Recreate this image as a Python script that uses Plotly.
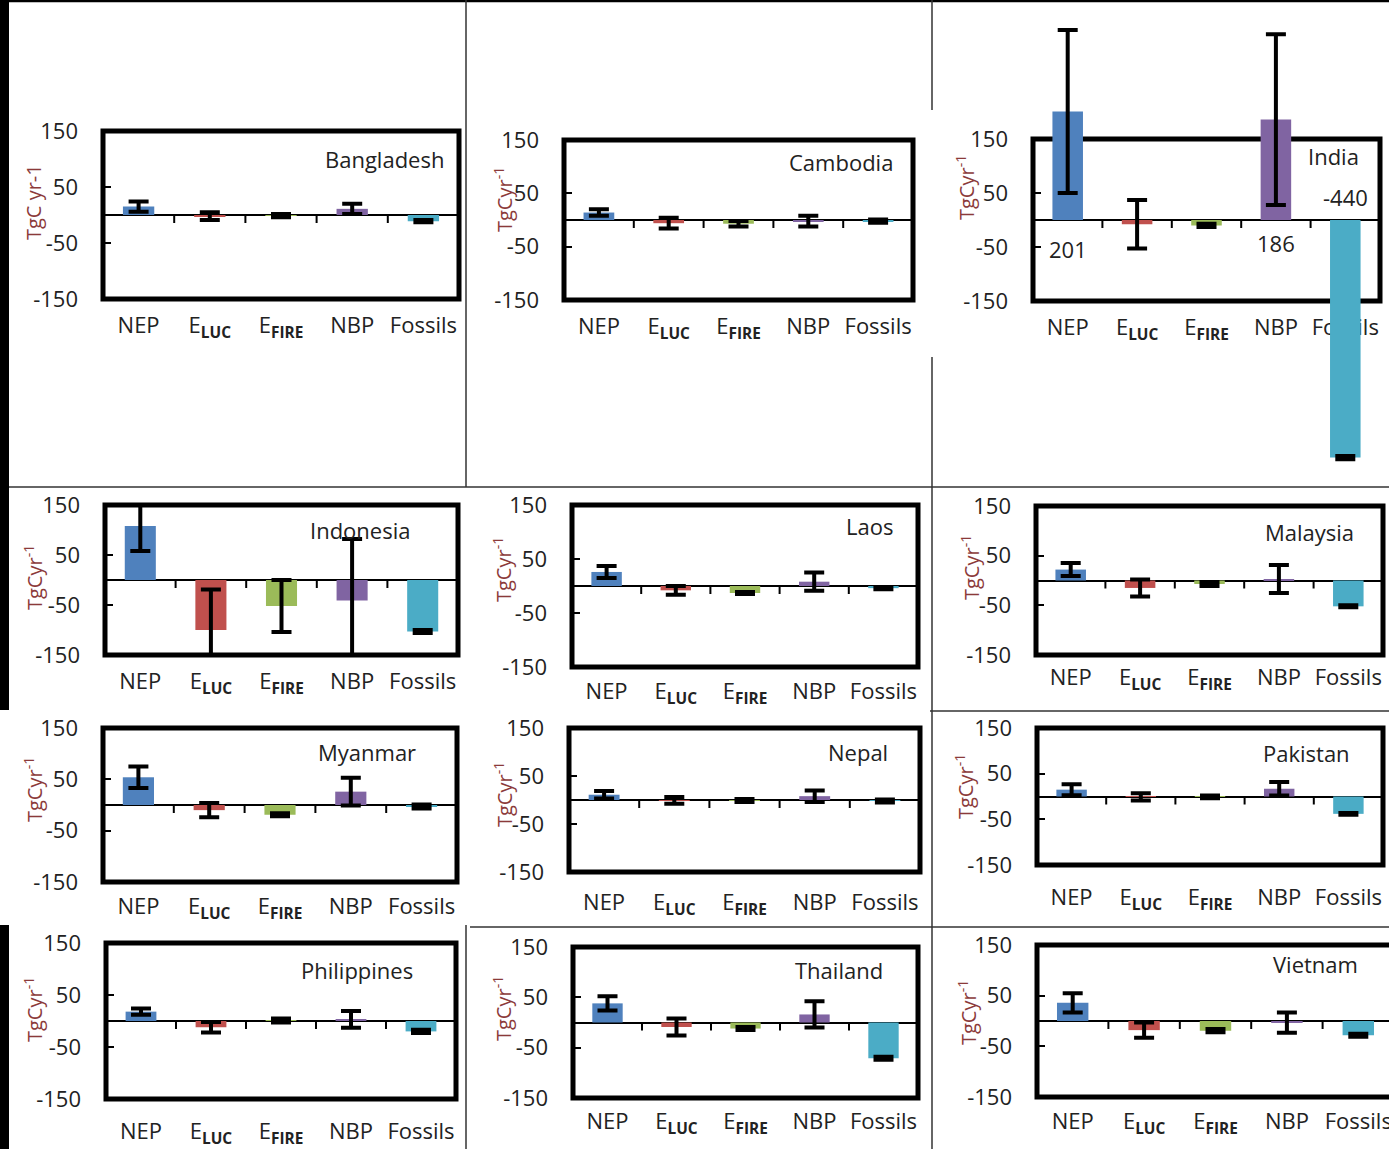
import plotly.graph_objects as go

W, H = 1389, 1149

categories = ['NEP', 'ELUC', 'EFIRE', 'NBP', 'Fossils']
category_labels = ['NEP', 'E<sub><b>LUC</b></sub>', 'E<sub><b>FIRE</b></sub>', 'NBP', 'Fossils']
bar_colors = ['#4F81BD', '#C0504D', '#9BBB59', '#8064A2', '#4BACC6']
y_tick_values = [150, 50, -50, -150]
y_tick_labels = ['150', '50', '-50', '-150']

countries = ['Bangladesh', 'Cambodia', 'India', 'Indonesia', 'Laos', 'Malaysia',
             'Myanmar', 'Nepal', 'Pakistan', 'Philippines', 'Thailand', 'Vietnam']

# values (TgC yr-1) and error magnitudes, order: NEP, ELUC, EFIRE, NBP, Fossils
bangladesh = [15, -2, -1, 11, -11]
bangladesh_err = [9, 7, 3, 9, 2]
cambodia = [14, -6, -7, -2, -2]
cambodia_err = [6, 10, 5, 10, 3]
india = [201, -8, -10, 186, -440]
india_err = [151, 45, 3, 158, 3]
indonesia = [108, -100, -52, -41, -103]
indonesia_err = [50, 81, 52, 123, 3]
laos = [26, -8, -13, 8, -4]
laos_err = [11, 8, 2, 17, 2]
malaysia = [22, -15, -7, 3, -52]
malaysia_err = [13, 17, 4, 28, 2]
myanmar = [54, -10, -19, 26, -3]
myanmar_err = [21, 14, 3, 27, 4]
nepal = [11, -1, -1, 8, -2]
nepal_err = [8, 7, 3, 12, 3]
pakistan = [15, -1, -1, 17, -38]
pakistan_err = [12, 8, 3, 15, 2]
philippines = [18, -12, 1, 3, -20]
philippines_err = [6, 10, 4, 16, 3]
thailand = [38, -9, -12, 16, -71]
thailand_err = [14, 17, 3, 26, 3]
vietnam = [36, -18, -19, -3, -28]
vietnam_err = [19, 15, 3, 20, 3]

india_value_labels = ['201', '186', '-440']

values = [bangladesh, cambodia, india, indonesia, laos, malaysia,
          myanmar, nepal, pakistan, philippines, thailand, vietnam]
errors = [bangladesh_err, cambodia_err, india_err, indonesia_err, laos_err, malaysia_err,
          myanmar_err, nepal_err, pakistan_err, philippines_err, thailand_err, vietnam_err]

# panel frame geometry in pixels: left, right, top(150), bottom(-150)
frames = [
    (103, 459, 131, 299), (564, 913, 140, 300), (1033, 1380, 139, 301),
    (105, 458, 505, 655), (572, 918, 505, 667), (1036, 1383, 506, 655),
    (103, 457, 728, 882), (569, 920, 728, 872), (1037, 1383, 728, 865),
    (106, 456, 943, 1099), (573, 918, 947, 1098), (1037, 1394, 945, 1097),
]
# country label: right edge x, centre y
name_pos = [(446, 159), (895, 162), (1361, 156), (412, 530), (895, 526), (1356, 532),
            (418, 752), (890, 752), (1352, 753), (415, 970), (885, 970), (1360, 964)]
# y-title centre positions
ytitle_pos = [(33, 202), (503, 200), (966, 188), (33, 578), (502, 570), (970, 568),
              (33, 790), (503, 795), (964, 787), (33, 1010), (502, 1009), (967, 1012)]
# gap from frame bottom to category-label centre
label_gap = [27, 27, 27, 27, 25, 23, 25, 31, 33, 33, 24, 25]

FONT = 'Open Sans'
TXT = '#222222'

fig = go.Figure()
shapes = []
annotations = []
layout = {}

for i, (name, vals, errs, fr) in enumerate(zip(countries, values, errors, frames), start=1):
    xl, xr, yt, yb = fr
    xa = 'x' if i == 1 else f'x{i}'
    ya = 'y' if i == 1 else f'y{i}'
    xkey = 'xaxis' if i == 1 else f'xaxis{i}'
    ykey = 'yaxis' if i == 1 else f'yaxis{i}'
    fig.add_trace(go.Bar(
        x=categories, y=vals, xaxis=xa, yaxis=ya,
        marker=dict(color=bar_colors, line=dict(width=0)),
        error_y=dict(type='data', array=errs, visible=True, color='black',
                     thickness=4, width=10),
        showlegend=False, hoverinfo='skip'))

    scale = (yb - yt) / 300.0          # px per unit
    zero_px = (yt + yb) / 2.0
    if name == 'India':
        r0, r1 = -470, 400
    else:
        r0, r1 = -150, 150
    dom_top = zero_px - r1 * scale
    dom_bot = zero_px - r0 * scale

    cat_w = (xr - xl) / len(categories)
    x_right = min(xr, W)
    xrange_hi = -0.5 + (x_right - xl) / cat_w

    xaxis = dict(domain=[xl / W, x_right / W], range=[-0.5, xrange_hi],
                 type='category', tickvals=categories, ticktext=category_labels,
                 showgrid=False, zeroline=False, showline=False, ticks='',
                 tickfont=dict(family=FONT, size=22, color=TXT),
                 ticklabelstandoff=label_gap[i - 1] - 16, fixedrange=True)
    if name == 'India':
        xaxis.update(anchor='free', position=1 - yb / H, layer='below traces')
    else:
        xaxis.update(anchor=ya)
    yaxis = dict(domain=[1 - dom_bot / H, 1 - dom_top / H], range=[r0, r1],
                 tickvals=y_tick_values, ticktext=y_tick_labels,
                 ticks='inside', ticklen=8, tickwidth=1.5, tickcolor='black',
                 showgrid=False, showline=False,
                 zeroline=True, zerolinecolor='black', zerolinewidth=1.5,
                 tickfont=dict(family=FONT, size=22, color=TXT),
                 ticklabelstandoff=24, anchor=xa, fixedrange=True)
    layout[xkey] = xaxis
    layout[ykey] = yaxis

    # frame
    if name == 'India':
        f_top = 1 - dom_top / H - (r1 - 150) * scale / H
        f_bot = 1 - dom_top / H - (r1 + 150) * scale / H
        shapes.append(dict(type='rect', xref=f'{xa} domain', yref='paper',
                           x0=0, x1=1, y0=f_bot, y1=f_top,
                           line=dict(color='black', width=5), layer='between'))
    else:
        shapes.append(dict(type='rect', xref=f'{xa} domain', yref=f'{ya} domain',
                           x0=0, x1=(xr - xl) / (x_right - xl), y0=0, y1=1,
                           line=dict(color='black', width=5), layer='above'))
    # small ticks on the zero line between categories
    for k in range(len(categories) - 1):
        shapes.append(dict(type='line', xref=xa, yref=ya, x0=k + 0.5, x1=k + 0.5,
                           ysizemode='pixel', yanchor=0, y0=0, y1=-8,
                           line=dict(color='black', width=2)))

    nx, ny = name_pos[i - 1]
    annotations.append(dict(text=name, xref='paper', yref='paper', x=nx / W, y=1 - ny / H,
                            xanchor='right', yanchor='middle', showarrow=False,
                            font=dict(family=FONT, size=22, color=TXT)))
    tx, ty = ytitle_pos[i - 1]
    ttl = 'TgC yr-1' if name == 'Bangladesh' else 'TgCyr<sup>-1</sup>'
    annotations.append(dict(text=ttl, xref='paper', yref='paper', x=tx / W, y=1 - ty / H,
                            xanchor='center', yanchor='middle', textangle=-90, showarrow=False,
                            font=dict(family=FONT, size=20, color='#8B3A3A')))

# India value labels for bars exceeding the axis range
india_label_pos = [(0, -54), (3, -43), (4, 43)]
for txt, (ci, yv) in zip(india_value_labels, india_label_pos):
    annotations.append(dict(text=txt, xref='x3', yref='y3', x=categories[ci], y=yv,
                            showarrow=False, xanchor='center', yanchor='middle',
                            font=dict(family=FONT, size=22, color=TXT)))

# decorative panel separators of the composite
def pline(x0, y0, x1, y1, w=1.5, c='#333333'):
    shapes.append(dict(type='line', xref='paper', yref='paper',
                       x0=x0 / W, x1=x1 / W, y0=1 - y0 / H, y1=1 - y1 / H,
                       line=dict(color=c, width=w), layer='above'))

def prect(x0, y0, x1, y1):
    shapes.append(dict(type='rect', xref='paper', yref='paper',
                       x0=x0 / W, x1=x1 / W, y0=1 - y1 / H, y1=1 - y0 / H,
                       fillcolor='black', line=dict(width=0), layer='above'))

prect(0, 0, 9, 710)
prect(0, 925, 9, 1149)
pline(0, 1, W, 1, 2.5, 'black')
pline(466, 0, 466, 487)
pline(466, 925, 466, 1149)
pline(932, 0, 932, 110)
pline(932, 357, 932, 1149)
pline(9, 487, W, 487)
pline(930, 711, W, 711)
pline(470, 927, W, 927)

fig.update_layout(
    width=W, height=H, margin=dict(l=0, r=0, t=0, b=0),
    template='none', paper_bgcolor='white', plot_bgcolor='rgba(0,0,0,0)',
    bargap=0.56, showlegend=False,
    shapes=shapes, annotations=annotations, **layout)
fig.write_html('out.html', config={'displayModeBar': False},
               post_script="document.body.style.margin='0';document.body.style.overflow='hidden';")
